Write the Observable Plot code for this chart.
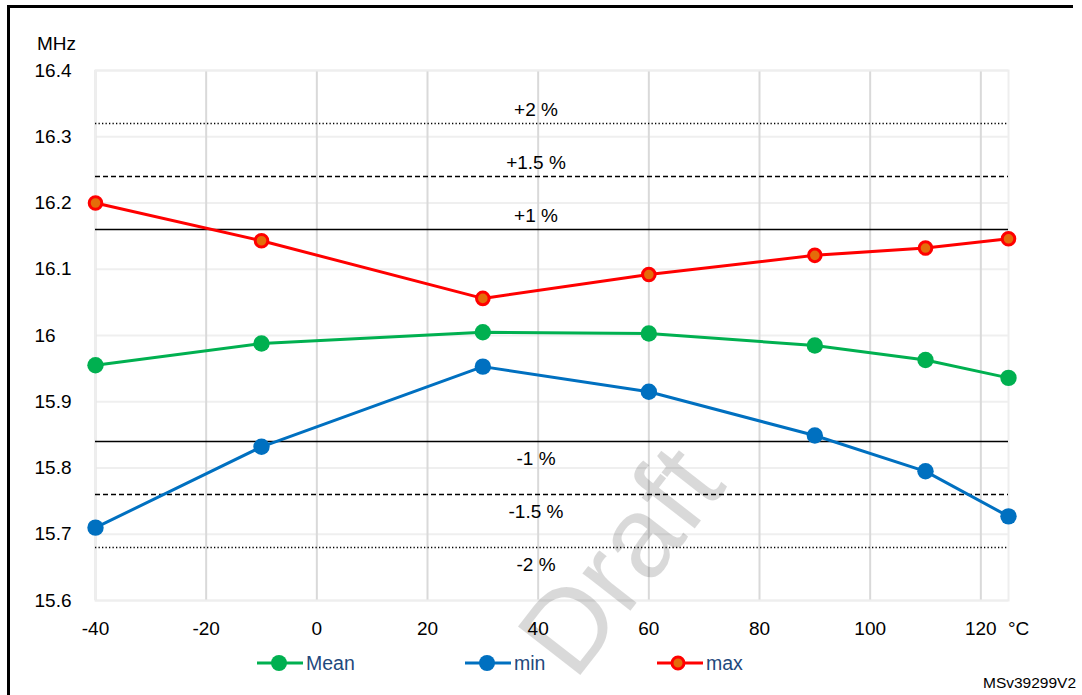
<!DOCTYPE html>
<html>
<head>
<meta charset="utf-8">
<script src="https://cdn.jsdelivr.net/npm/d3@7"></script>
<script src="https://cdn.jsdelivr.net/npm/@observablehq/plot@0.6"></script>
<style>
  body { margin: 0; background: #fff; font-family: "Liberation Sans", Arial, sans-serif; }
  #wrap { position: relative; width: 1082px; height: 695px; overflow: hidden; background: #fff; }
  #chart { position: absolute; left: 0; top: 0; }
  .frameL { position: absolute; left: 7px; top: 5px; width: 2.5px; height: 700px; background: #000; }
  .frameT { position: absolute; left: 7px; top: 5px; width: 1066px; height: 2.5px; background: #000; }
  .lbl { position: absolute; font-size: 19px; color: #000; line-height: 1; white-space: nowrap; }
  .leg { position: absolute; top: 653px; height: 20px; display: flex; align-items: center; font-size: 19.5px; color: #1f497d; }
  .leg svg { display: block; margin-right: 3px; }
  .mark { position: absolute; font-size: 15.5px; color: #000; }
  .draft { position: absolute; left: 620px; top: 560px; font-size: 115px; color: rgba(0,0,0,0.15);
           transform: translate(-50%, -50%) rotate(-52deg); white-space: nowrap; pointer-events: none; line-height: 1; }
</style>
</head>
<body>
<div id="wrap">
  <div id="chart"></div>
  <div class="frameL"></div>
  <div class="frameT"></div>
  <div class="lbl" style="left:37px; top:34px;">MHz</div>
  <div class="lbl" style="left:1008px; top:619px;">°C</div>
  <div id="legend"></div>
  <div class="mark" style="left:983px; top:674px;">MSv39299V2</div>
  <div class="draft">Draft</div>
</div>
<script>
// ---- data ----
const temps = [-40, -10, 30, 60, 90, 110, 125];
const meanMHz = [15.955, 15.988, 16.005, 16.003, 15.985, 15.963, 15.936];
const minMHz  = [15.710, 15.832, 15.953, 15.915, 15.849, 15.795, 15.727];
const maxMHz  = [16.200, 16.143, 16.056, 16.092, 16.121, 16.132, 16.146];
const seriesNames = ["Mean", "min", "max"];
const xTicks = [-40, -20, 0, 20, 40, 60, 80, 100, 120];
const xTickLabels = ["-40", "-20", "0", "20", "40", "60", "80", "100", "120"];
const yTicks = [15.6, 15.7, 15.8, 15.9, 16.0, 16.1, 16.2, 16.3, 16.4];
const yTickLabels = ["15.6", "15.7", "15.8", "15.9", "16", "16.1", "16.2", "16.3", "16.4"];
const refLabels = ["+2 %", "+1.5 %", "+1 %", "-1 %", "-1.5 %", "-2 %"];
const refValues = [16.32, 16.24, 16.16, 15.84, 15.76, 15.68];

// ---- styles ----
const colors = {Mean: "#00b050", min: "#0070c0", max: "#ff0000"};
const maxFill = "#e46c0a";

const seriesValues = {Mean: meanMHz, min: minMHz, max: maxMHz};
const rows = seriesNames.flatMap(s => temps.map((t, i) => ({series: s, t, f: seriesValues[s][i]})));
const refs = refValues.map((v, i) => ({v, label: refLabels[i], pct: Math.abs(parseFloat(refLabels[i]))}));
const yLabel = new Map(yTicks.map((v, i) => [v, yTickLabels[i]]));
const xLabel = new Map(xTicks.map((v, i) => [v, xTickLabels[i]]));

const plot = Plot.plot({
  width: 1082,
  height: 695,
  marginTop: 70,
  marginLeft: 95,
  marginRight: 74,
  marginBottom: 95,
  style: {fontFamily: "'Liberation Sans', Arial, sans-serif", fontSize: "19px", color: "#000", background: "transparent", overflow: "visible"},
  x: {domain: [-40, 125]},
  y: {domain: [15.6, 16.4]},
  color: {domain: seriesNames, range: seriesNames.map(s => colors[s])},
  marks: [
    Plot.gridY(yTicks, {stroke: "#efefef", strokeOpacity: 1, strokeWidth: 2}),
    Plot.gridX(xTicks, {stroke: "#d9d9d9", strokeOpacity: 1, strokeWidth: 2}),
    Plot.frame({stroke: "#eeeeee", strokeWidth: 2}),
    Plot.ruleY(refs.filter(d => d.pct === 1), {y: "v", stroke: "#000", strokeWidth: 1.6}),
    Plot.ruleY(refs.filter(d => d.pct === 1.5), {y: "v", stroke: "#000", strokeWidth: 1.4, strokeDasharray: "5,3"}),
    Plot.ruleY(refs.filter(d => d.pct === 2), {y: "v", stroke: "#000", strokeWidth: 1.3, strokeDasharray: "1.3,2.2"}),
    Plot.text(refs.filter(d => d.v > 16), {y: "v", text: "label", frameAnchor: "middle", dx: -16, dy: -14, fill: "#000", fontSize: 19}),
    Plot.text(refs.filter(d => d.v < 16), {y: "v", text: "label", frameAnchor: "middle", dx: -16, dy: 17, fill: "#000", fontSize: 19}),
    Plot.axisX(xTicks, {tickSize: 0, tickPadding: 21, fontSize: 19, label: null, tickFormat: d => xLabel.get(d)}),
    Plot.axisY(yTicks, {tickSize: 0, tickPadding: 61, textAnchor: "start", fontSize: 19, label: null, tickFormat: d => yLabel.get(d)}),
    Plot.line(rows, {x: "t", y: "f", z: "series", stroke: "series", strokeWidth: 3}),
    Plot.dot(rows.filter(d => d.series !== "max"), {x: "t", y: "f", fill: "series", r: 8.2}),
    Plot.dot(rows.filter(d => d.series === "max"), {x: "t", y: "f", fill: maxFill, stroke: colors.max, strokeWidth: 3, r: 6.3})
  ]
});
document.getElementById("chart").appendChild(plot);

// ---- legend ----
const legendPos = {Mean: 257, min: 465, max: 657};
const legend = document.getElementById("legend");
seriesNames.forEach(s => {
  const item = document.createElement("div");
  item.className = "leg";
  item.style.left = legendPos[s] + "px";
  const isMax = s === "max";
  item.innerHTML = `<svg width="46" height="20"><line x1="0" x2="46" y1="10" y2="10" stroke="${colors[s]}" stroke-width="3"/>` +
    (isMax ? `<circle cx="21" cy="10" r="6" fill="${maxFill}" stroke="${colors[s]}" stroke-width="3"/>`
           : `<circle cx="22" cy="10" r="8" fill="${colors[s]}"/>`) +
    `</svg><span>${s}</span>`;
  legend.appendChild(item);
});
</script>
</body>
</html>
